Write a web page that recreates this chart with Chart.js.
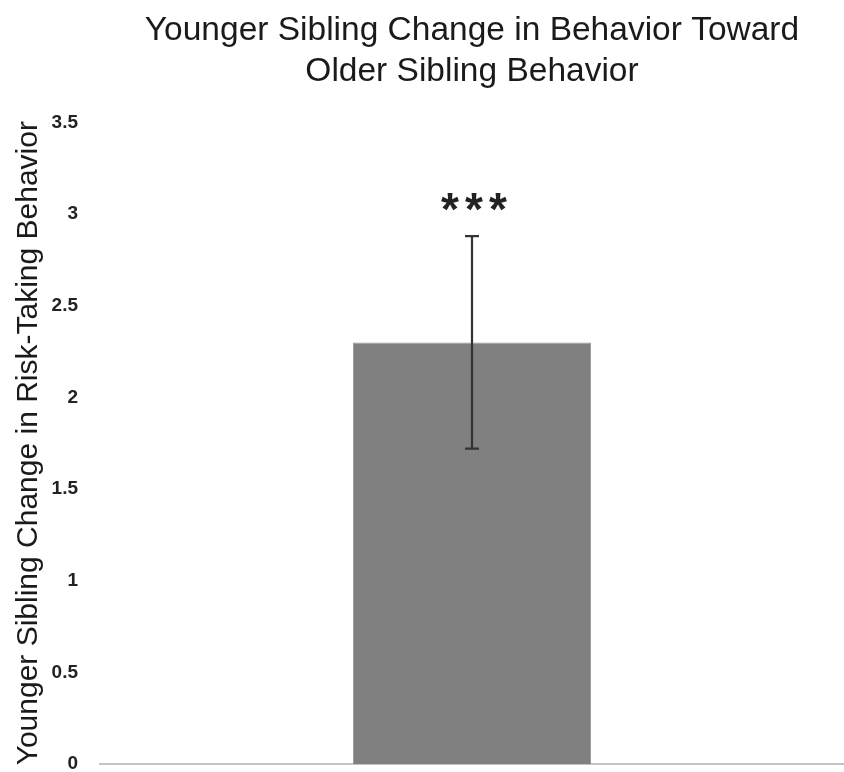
<!DOCTYPE html>
<html>
<head>
<meta charset="utf-8">
<script src="https://cdn.jsdelivr.net/npm/chart.js@4.4.1/dist/chart.umd.min.js"></script>
<style>
  html, body { margin: 0; padding: 0; background: #fff; }
  #wrap { width: 844px; height: 772px; }
</style>
</head>
<body>
<div id="wrap"><canvas id="chart" width="844" height="772"></canvas></div>
<script>
// data
const categories = ['Younger sibling'];
const meanValues = [2.30];
const errorLow = [1.72];
const errorHigh = [2.88];
const sigMarks = ['***'];
const yTicks = [0, 0.5, 1, 1.5, 2, 2.5, 3, 3.5];

// error bars + significance stars, drawn from the scales
const errorBarPlugin = {
    id: 'errorBars',
    afterDatasetsDraw(chart) {
        const ctx = chart.ctx;
        const yScale = chart.scales.y;
        const meta = chart.getDatasetMeta(0);
        ctx.save();
        meta.data.forEach(function(bar, i) {
            const x = bar.x;
            const yLo = yScale.getPixelForValue(errorLow[i]);
            const yHi = yScale.getPixelForValue(errorHigh[i]);
            ctx.strokeStyle = '#333';
            ctx.lineWidth = 2.2;
            ctx.beginPath();
            ctx.moveTo(x, yLo);
            ctx.lineTo(x, yHi);
            ctx.moveTo(x - 7, yHi);
            ctx.lineTo(x + 7, yHi);
            ctx.moveTo(x - 7, yLo);
            ctx.lineTo(x + 7, yLo);
            ctx.stroke();

            // stars, a bit spread out like the original
            ctx.fillStyle = '#222';
            ctx.font = 'bold 46px "Liberation Sans", Arial, sans-serif';
            ctx.textAlign = 'center';
            ctx.textBaseline = 'alphabetic';
            const chars = sigMarks[i].split('');
            const step = 24;
            chars.forEach(function(c, k) {
                const cx = x + 2 + (k - (chars.length - 1) / 2) * step;
                ctx.fillText(c, cx, yHi - 11);
            });
        });
        ctx.restore();
    }
};

const ctx = document.getElementById('chart').getContext('2d');
new Chart(ctx, {
    type: 'bar',
    data: {
        labels: categories,
        datasets: [{
            data: meanValues,
            backgroundColor: '#808080',
            borderColor: '#9a9a9a',
            borderWidth: 1,
            barPercentage: 0.32,
            categoryPercentage: 1.0
        }]
    },
    options: {
        responsive: false,
        animation: false,
        layout: { padding: { top: 0, right: 0, bottom: 7, left: 0 } },
        plugins: {
            legend: { display: false },
            tooltip: { enabled: false },
            title: {
                display: true,
                fullSize: false,
                text: ['Younger Sibling Change in Behavior Toward', 'Older Sibling Behavior'],
                color: '#1a1a1a',
                font: { family: '"Liberation Sans", Arial, sans-serif', size: 33.5, weight: 'normal', lineHeight: 1.2 },
                padding: { top: 11, bottom: 31 }
            }
        },
        scales: {
            x: {
                grid: { display: false },
                ticks: { display: false },
                border: { display: true, color: '#c4c4c4', width: 2 },
                afterFit: function(scale) { scale.height = 1; }
            },
            y: {
                min: 0,
                max: 3.5,
                afterBuildTicks: function(scale) {
                    scale.ticks = yTicks.map(function(v) { return { value: v }; });
                },
                afterFit: function(scale) {
                    scale.width = 100;
                    scale.paddingTop = 0;
                    scale.paddingBottom = 0;
                },
                grid: { display: false },
                border: { display: false },
                ticks: {
                    color: '#222',
                    padding: 14,
                    font: { family: '"Liberation Sans", Arial, sans-serif', size: 19, weight: 'bold' },
                    callback: function(v) { return String(v); }
                },
                title: {
                    display: true,
                    text: 'Younger Sibling Change in Risk-Taking Behavior',
                    color: '#1a1a1a',
                    font: { family: '"Liberation Sans", Arial, sans-serif', size: 30, weight: 'normal' },
                    padding: { top: 11, bottom: 0 }
                }
            }
        }
    },
    plugins: [errorBarPlugin]
});
</script>
</body>
</html>
